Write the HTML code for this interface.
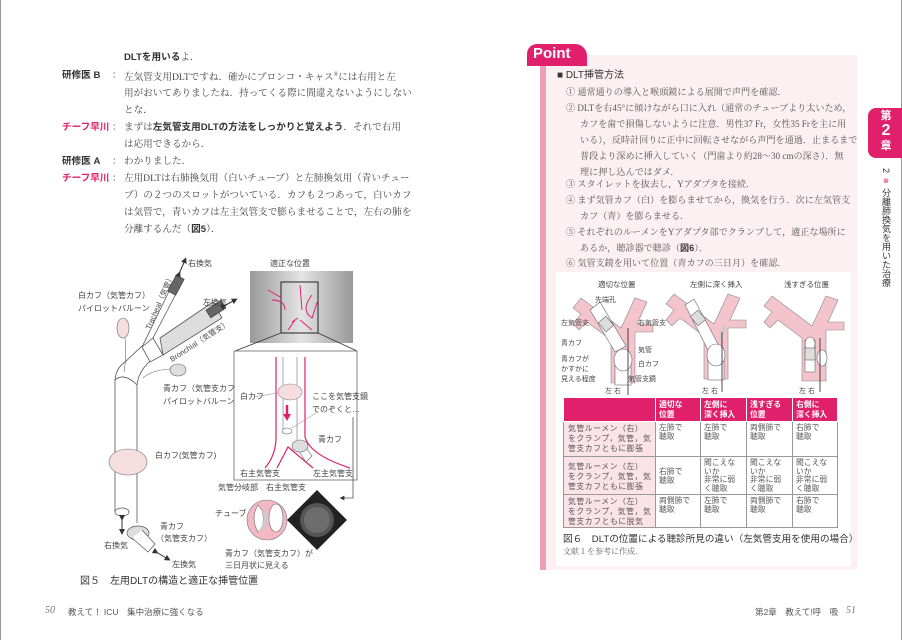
<!DOCTYPE html>
<html><head><meta charset="utf-8"><style>
*{margin:0;padding:0;box-sizing:border-box}
body{width:902px;height:640px;background:#fff;position:relative;overflow:hidden;font-family:"Liberation Serif","Noto Serif CJK SC",serif;color:#444}
.a{position:absolute;white-space:nowrap}
.t{font-size:9.6px;line-height:17px}
.lab{font-family:"Liberation Sans","Noto Sans CJK JP",sans-serif;font-weight:bold;color:#333;font-size:9.6px}
.red{color:#e0206a}
.b{font-family:"Liberation Sans","Noto Sans CJK JP",sans-serif;font-weight:bold;color:#333}
.p{font-size:9.1px;line-height:16px;color:#555}
table{border-collapse:collapse;table-layout:fixed;white-space:normal;font-family:"Liberation Sans","Noto Sans CJK JP",sans-serif;font-size:7.8px;color:#555}
td,th{border:1px solid #999;vertical-align:top;padding:2px 3px 0;line-height:8.5px;text-align:left;white-space:nowrap;overflow:hidden}
th{background:#e0206a;color:#fff;font-weight:bold;border-color:#fff;vertical-align:middle;line-height:10px;padding:1px 3px}
td.h{background:#fbe3e8;letter-spacing:0.6px;line-height:10px;padding:2px 4px 0}
</style></head><body>
<div class="a" style="left:0;top:0;width:1px;height:640px;background:#999"></div>
<div class="a" style="left:901px;top:0;width:1px;height:640px;background:#999"></div>

<div class="a t" style="left:124px;top:49px"><span class="b">DLTを用いる</span>よ．</div>
<div class="a t lab" style="left:62px;top:67px">研修医 B</div><div class="a t" style="left:112px;top:67px">：</div>
<div class="a t" style="left:124px;top:67px">左気管支用DLTですね．確かにブロンコ・キャス<sup style="font-size:6px">®</sup>には右用と左</div>
<div class="a t" style="left:124px;top:85px">用がおいてありましたね．持ってくる際に間違えないようにしない</div>
<div class="a t" style="left:124px;top:102px">とな．</div>
<div class="a t lab red" style="left:62px;top:119px">チーフ早川</div><div class="a t" style="left:112px;top:119px">：</div>
<div class="a t" style="left:124px;top:119px">まずは<span class="b">左気管支用DLTの方法をしっかりと覚えよう</span>．それで右用</div>
<div class="a t" style="left:124px;top:136px">は応用できるから．</div>
<div class="a t lab" style="left:62px;top:153px">研修医 A</div><div class="a t" style="left:112px;top:153px">：</div>
<div class="a t" style="left:124px;top:153px">わかりました．</div>
<div class="a t lab red" style="left:62px;top:170px">チーフ早川</div><div class="a t" style="left:112px;top:170px">：</div>
<div class="a t" style="left:124px;top:170px">左用DLTは右肺換気用（白いチューブ）と左肺換気用（青いチュー</div>
<div class="a t" style="left:124px;top:187px">ブ）の２つのスロットがついている．カフも２つあって，白いカフ</div>
<div class="a t" style="left:124px;top:204px">は気管で，青いカフは左主気管支で膨らませることで，左右の肺を</div>
<div class="a t" style="left:124px;top:221px">分離するんだ（<span class="b">図5</span>）．</div>

<div class="a" style="left:540px;top:55px;width:317px;height:515px;background:#fdf0f2"></div>
<div class="a" style="left:540px;top:62px;width:6px;height:508px;background:#f0a0b4"></div>
<div class="a" style="left:527px;top:44px;width:60px;height:22px;background:#e0206a;border-radius:10px 12px 0 0"></div>
<div class="a" style="left:533px;top:44px;font-family:'Liberation Sans',sans-serif;font-weight:bold;color:#fff;font-size:15px;line-height:20px">Point</div>
<div class="a" style="left:556px;top:376px;width:295px;height:190px;background:#fff"></div>
<div class="a" style="left:556px;top:272px;width:295px;height:122px;background:#fff"></div>

<div class="a b" style="left:557px;top:66px;font-size:10px;font-weight:normal">■ DLT挿管方法</div>
<div class="a p" style="left:566px;top:84px">① 通常通りの導入と喉頭鏡による展開で声門を確認．</div>
<div class="a p" style="left:566px;top:100px">② DLTを右45°に傾けながら口に入れ（通常のチューブより太いため，</div>
<div class="a p" style="left:580px;top:116px">カフを歯で損傷しないように注意．男性37 Fr，女性35 Frを主に用</div>
<div class="a p" style="left:580px;top:132px">いる），反時計回りに正中に回転させながら声門を通過．止まるまで</div>
<div class="a p" style="left:580px;top:148px">普段より深めに挿入していく（門歯より約28～30 cmの深さ）．無</div>
<div class="a p" style="left:580px;top:164px">理に押し込んではダメ．</div>
<div class="a p" style="left:566px;top:176px">③ スタイレットを抜去し，Yアダプタを接続．</div>
<div class="a p" style="left:566px;top:192px">④ まず気管カフ（白）を膨らませてから，換気を行う．次に左気管支</div>
<div class="a p" style="left:580px;top:208px">カフ（青）を膨らませる．</div>
<div class="a p" style="left:566px;top:224px">⑤ それぞれのルーメンをYアダプタ部でクランプして，適正な場所に</div>
<div class="a p" style="left:580px;top:240px">あるか，聴診器で聴診（<span class="b">図6</span>）．</div>
<div class="a p" style="left:566px;top:255px">⑥ 気管支鏡を用いて位置（青カフの三日月）を確認．</div>

<table class="a" style="left:563px;top:397px;width:274px">
<colgroup><col style="width:92px"><col style="width:45px"><col style="width:46px"><col style="width:46px"><col style="width:45px"></colgroup>
<tr style="height:24px"><th></th><th>適切な<br>位置</th><th>左側に<br>深く挿入</th><th>浅すぎる<br>位置</th><th>右側に<br>深く挿入</th></tr>
<tr style="height:35px"><td class="h">気管ルーメン（右）<br>をクランプ，気管，気<br>管支カフともに膨張</td><td>左肺で<br>聴取</td><td>左肺で<br>聴取</td><td>両側肺で<br>聴取</td><td>右肺で<br>聴取</td></tr>
<tr style="height:38px"><td class="h" style="vertical-align:middle">気管ルーメン（左）<br>をクランプ，気管，気<br>管支カフともに膨張</td><td style="vertical-align:middle">右肺で<br>聴取</td><td>聞こえな<br>いか<br>非常に弱<br>く聴取</td><td>聞こえな<br>いか<br>非常に弱<br>く聴取</td><td>聞こえな<br>いか<br>非常に弱<br>く聴取</td></tr>
<tr style="height:33px"><td class="h">気管ルーメン（左）<br>をクランプ，気管，気<br>管支カフともに脱気</td><td>両側肺で<br>聴取</td><td>左肺で<br>聴取</td><td>両側肺で<br>聴取</td><td>右肺で<br>聴取</td></tr>
</table>
<div class="a b" style="left:563px;top:531px;font-size:9.6px;font-weight:normal">図６　DLTの位置による聴診所見の違い（左気管支用を使用の場合）</div>
<div class="a" style="left:563px;top:546px;font-size:8px;color:#666">文献１を参考に作成．</div>

<div class="a" style="left:868px;top:108px;width:34px;height:50px;background:#e0206a;border-radius:8px 0 0 8px"></div>
<div class="a b" style="left:876px;top:110px;color:#fff;font-size:11px;line-height:12px;text-align:center;width:20px">第<br><span style="font-size:16px;line-height:18px">2</span><br>章</div>
<div class="a" style="left:880px;top:168px;font-family:'Liberation Sans','Noto Sans CJK JP',sans-serif;font-size:9px;line-height:11px;color:#333;writing-mode:vertical-rl">2 <span style="color:#f08aa8">■</span> 分離肺換気を用いた治療</div>

<div class="a" style="left:45px;top:605px;font-size:10px;font-style:italic;color:#777">50</div>
<div class="a" style="left:68px;top:606px;font-size:8.5px;font-family:'Liberation Sans','Noto Sans CJK JP',sans-serif;color:#555">教えて！ ICU　集中治療に強くなる</div>
<div class="a" style="left:755px;top:606px;font-size:8.5px;font-family:'Liberation Sans','Noto Sans CJK JP',sans-serif;color:#555">第2章　教えて!呼　吸</div>
<div class="a" style="left:846px;top:605px;font-size:10px;font-style:italic;color:#777">51</div>

<svg class="a" style="left:0;top:0" width="902" height="640" font-family="Liberation Sans, Noto Sans CJK JP, sans-serif" font-size="8" fill="#444">
<defs><marker id="ah" markerWidth="6" markerHeight="6" refX="3" refY="3" orient="auto"><path d="M0,0L6,3L0,6z" fill="#333"/></marker>
<linearGradient id="xr" x1="0" x2="1"><stop offset="0" stop-color="#999"/><stop offset=".5" stop-color="#e4e4e4"/><stop offset="1" stop-color="#999"/></linearGradient></defs>
<g stroke="#555" stroke-width="0.8" fill="none">
<path d="M115,512 L115,380 Q116,368 125,362 L143,345 L173,283" fill="none"/>
<path d="M137,523 L137,385 Q138,373 148,363 L160,353" />
<path d="M153,338 L180,286"/>
<path d="M160,338 L213,302 L222,318 L163,355 Z" fill="#ddd"/>
<path d="M142,347 L153,338 L163,355 L150,362 Z" fill="#fff"/>
<path d="M115,380 Q124,372 137,385"/>
</g>
<g transform="rotate(-62 176 284)"><rect x="166" y="280" width="18" height="9" fill="#666" stroke="#333" stroke-width=".6"/></g>
<g transform="rotate(-33 217 309)"><rect x="207" y="304" width="18" height="9" fill="#666" stroke="#333" stroke-width=".6"/></g>
<line x1="179" y1="274" x2="185" y2="260" stroke="#333" stroke-width="1" marker-end="url(#ah)" marker-start="url(#ah)"/>
<line x1="224" y1="306" x2="235" y2="300" stroke="#333" stroke-width="1" marker-end="url(#ah)" marker-start="url(#ah)"/>
<ellipse cx="123" cy="328" rx="6" ry="10" fill="#f7dede" stroke="#666" stroke-width=".6"/>
<path d="M125,338 Q127,355 124,372" stroke="#666" stroke-width=".6" fill="none"/>
<ellipse cx="178" cy="370" rx="8" ry="6" fill="#ddd" stroke="#666" stroke-width=".6"/>
<path d="M170,369 Q152,370 143,378" stroke="#666" stroke-width=".6" fill="none"/>
<ellipse cx="128" cy="462" rx="19" ry="13" fill="#f7dede" stroke="#777" stroke-width=".6"/>
<ellipse cx="122" cy="512" rx="7" ry="4" fill="#fff" stroke="#555" stroke-width=".7"/>
<ellipse cx="138" cy="533" rx="11" ry="7" fill="#ddd" stroke="#555" stroke-width=".7"/>
<path d="M132,538 L148,552 L155,544 L142,530" fill="#fff" stroke="#555" stroke-width=".7"/>
<line x1="122" y1="518" x2="122" y2="532" stroke="#333" stroke-width="1" marker-end="url(#ah)" marker-start="url(#ah)"/>
<line x1="156" y1="552" x2="168" y2="559" stroke="#333" stroke-width="1" marker-end="url(#ah)" marker-start="url(#ah)"/>
<text x="188" y="266">右換気</text>
<text x="78" y="298">白カフ（気管カフ）</text>
<text x="78" y="311">パイロットバルーン</text>
<text x="203" y="305">左換気</text>
<text transform="translate(150,330) rotate(-66)" font-size="7.5">Tracheal（気管）</text>
<text transform="translate(172,362) rotate(-33)" font-size="7.5">Bronchial（気管支）</text>
<text x="163" y="391">青カフ（気管支カフ）</text>
<text x="163" y="404">パイロットバルーン</text>
<text x="155" y="458">白カフ(気管カフ)</text>
<text x="160" y="529">青カフ</text>
<text x="156" y="541">（気管支カフ）</text>
<text x="104" y="548">右換気</text>
<text x="172" y="567">左換気</text>

<text x="270" y="266">適正な位置</text>
<rect x="250" y="271" width="103" height="72" fill="url(#xr)"/>
<rect x="281" y="282" width="37" height="51" fill="none" stroke="#222" stroke-width="1"/>
<g stroke="#e0206a" stroke-width="1" fill="none">
<path d="M268,290 L282,298 M272,300 Q285,300 285,310 M300,285 L302,310 M312,295 Q300,310 312,318 L318,300 M288,330 L295,320 M300,320 L312,330 M292,322 L298,318"/>
</g>
<path d="M281,333 L235,351 M318,333 L357,351" stroke="#333" stroke-width=".8"/>
<rect x="234" y="351" width="123" height="129" fill="#fff" stroke="#666" stroke-width=".8"/>
<g stroke="#e0206a" stroke-width="1.2" fill="none">
<path d="M276,357 L276,437 Q276,455 265,468"/>
<path d="M305,357 L305,437 Q310,455 350,468"/>
<path d="M277,468 L288,447 L313,468"/>
</g>
<g stroke="#888" stroke-width=".7" fill="none"><path d="M283,357 L283,430 M297,357 L297,440 L305,455"/></g>
<ellipse cx="290" cy="392" rx="12" ry="8" fill="#f7dede" stroke="#888" stroke-width=".6"/>
<path d="M287,405 L287,416" stroke="#e0206a" stroke-width="2.5"/><path d="M283,414 L291,414 L287,421z" fill="#e0206a"/>
<ellipse cx="287" cy="431" rx="5" ry="3" fill="#fff" stroke="#666" stroke-width=".6"/>
<path d="M298,450 L306,462 L312,456 L304,445" fill="#fff" stroke="#666" stroke-width=".6"/>
<ellipse cx="300" cy="446" rx="8" ry="6" fill="#ddd" stroke="#666" stroke-width=".6"/>
<line x1="253" y1="397" x2="278" y2="393" stroke="#888" stroke-width=".5"/>
<line x1="316" y1="413" x2="292" y2="428" stroke="#888" stroke-width=".5"/>
<text x="240" y="399">白カフ</text>
<text x="312" y="399">ここを気管支鏡</text>
<text x="312" y="412">でのぞくと…</text>
<text x="318" y="442">青カフ</text>
<text x="240" y="476">右主気管支</text>
<text x="313" y="476">左主気管支</text>
<path d="M353,417 L353,498 L342,498" stroke="#555" stroke-width=".8" fill="none" marker-end="url(#ah)"/>
<text x="218" y="490">気管分岐部</text>
<text x="266" y="490">右主気管支</text>
<circle cx="267" cy="520" r="20" fill="#f2b8c4" stroke="#777" stroke-width=".6"/>
<ellipse cx="276" cy="518" rx="7" ry="14" fill="#fff" stroke="#666" stroke-width=".6"/>
<path d="M258,505 Q250,518 258,532 Q266,526 262,510z" fill="#fff" stroke="#666" stroke-width=".6"/>
<path d="M262,510 Q266,524 258,532 Q270,528 266,512z" fill="#ccc"/>
<path d="M317,490 L347,520 L317,550 L287,520z" fill="#222"/>
<circle cx="317" cy="520" r="17" fill="#555"/>
<circle cx="317" cy="520" r="13" fill="#777" opacity=".7"/>
<text x="215" y="516">チューブ</text>
<text x="225" y="556">青カフ（気管支カフ）が</text>
<text x="225" y="568">三日月状に見える</text>
<text x="80" y="584" font-size="10" fill="#333">図５　左用DLTの構造と適正な挿管位置</text>

<g font-size="7.5">
<text x="598" y="287">適切な位置</text>
<text x="690" y="287">左側に深く挿入</text>
<text x="784" y="287">浅すぎる位置</text>
</g>
<g fill="#f4c4cc" stroke="#888" stroke-width=".6">
<path transform="translate(623,338)" d="M-12,45 L-12,2 L-36,-16 L-44,-8 L-50,-14 L-42,-24 L-50,-30 L-42,-40 L-2,-10 L12,-40 L24,-36 L14,-14 L30,-14 L30,-6 L12,-6 L12,45 Z"/>
<path transform="translate(716,334)" d="M-12,45 L-12,2 L-36,-16 L-44,-8 L-50,-14 L-42,-24 L-50,-30 L-42,-40 L-2,-10 L12,-40 L24,-36 L14,-14 L30,-14 L30,-6 L12,-6 L12,45 Z"/>
<path transform="translate(814,336)" d="M-12,45 L-12,2 L-36,-16 L-44,-8 L-50,-14 L-42,-24 L-50,-30 L-42,-40 L-2,-10 L12,-40 L24,-36 L14,-14 L30,-14 L30,-6 L12,-6 L12,45 Z"/>
</g>
<g fill="#fff" stroke="#666" stroke-width=".6">
<rect x="615" y="355" width="16" height="30"/><path d="M615,352 L590,310 L600,302 L626,346z"/>
<ellipse cx="623" cy="360" rx="9" ry="11"/><rect x="601" y="318" width="10" height="12" fill="#ddd" transform="rotate(-40 606 324)"/>
<rect x="708" y="350" width="16" height="30"/><path d="M708,350 L685,305 L694,299 L718,344z"/>
<ellipse cx="716" cy="355" rx="9" ry="11"/><rect x="693" y="312" width="10" height="12" fill="#ddd" transform="rotate(-40 698 318)"/>
<path d="M720,340 L725,325" stroke-width="3" stroke="#ccc"/>
<rect x="805" y="340" width="10" height="32"/><ellipse cx="810" cy="344" rx="5" ry="7"/><rect x="805" y="348" width="10" height="12" fill="#ddd"/>
<ellipse cx="822" cy="358" rx="5" ry="8"/>
</g>
<g stroke="#222" stroke-width=".8"><path d="M628,328 L628,395 M722,332 L722,392 M820,338 L820,392"/></g>
<g font-size="7">
<text x="595" y="302">先端孔</text>
<text x="561" y="325">左気管支</text>
<text x="638" y="325">右気管支</text>
<text x="561" y="345">青カフ</text>
<text x="561" y="361">青カフが</text>
<text x="561" y="371">かすかに</text>
<text x="561" y="381">見える程度</text>
<text x="638" y="352">気管</text>
<text x="638" y="366">白カフ</text>
<text x="628" y="381">気管支鏡</text>
<text x="605" y="393">左 右</text><text x="702" y="393">左 右</text><text x="799" y="393">左 右</text>
</g>
</svg>
</body></html>
